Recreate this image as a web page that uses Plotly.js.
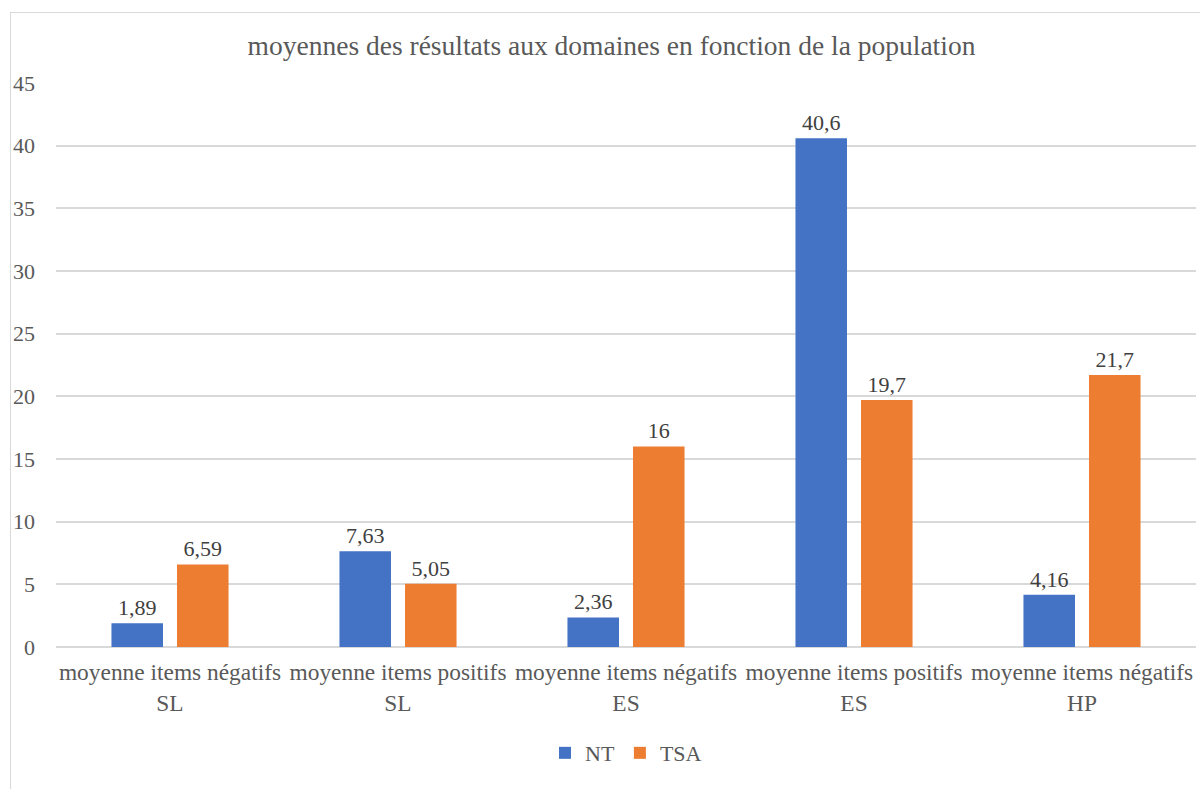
<!DOCTYPE html>
<html>
<head>
<meta charset="utf-8">
<script src="https://cdn.plot.ly/plotly-3.0.1.min.js"></script>
<style>
  html, body { margin: 0; padding: 0; background: #ffffff; }
  #wrap { position: relative; width: 1200px; height: 789px; overflow: hidden; }
  #chart { width: 1200px; height: 789px; }
  #frame { position: absolute; left: 10px; top: 12px; width: 1210px; height: 800px;
           border: 1.5px solid #d9d9d9; pointer-events: none; box-sizing: border-box; }
</style>
</head>
<body>
<div id="wrap">
  <div id="chart"></div>
  <div id="frame"></div>
</div>
<script>
const categories = [
  "moyenne items négatifs<br>SL",
  "moyenne items positifs<br>SL",
  "moyenne items négatifs<br>ES",
  "moyenne items positifs<br>ES",
  "moyenne items négatifs<br>HP"
];
const seriesNames = ["NT", "TSA"];
const ntValues = [1.89, 7.63, 2.36, 40.6, 4.16];
const tsaValues = [6.59, 5.05, 16, 19.7, 21.7];
const yTicks = [0, 5, 10, 15, 20, 25, 30, 35, 40, 45];
const chartTitle = "moyennes des résultats aux domaines en fonction de la population";

const fmt = v => String(v).replace('.', ',');
const serif = "Times New Roman, Liberation Serif, Tinos, DejaVu Serif, serif";

const traces = [
  {
    type: 'bar', name: seriesNames[0], x: categories, y: ntValues,
    text: ntValues.map(fmt), textposition: 'outside', cliponaxis: false,
    textfont: { family: serif, size: 22, color: '#404040' },
    marker: { color: '#4472C4' }, hoverinfo: 'x+y'
  },
  {
    type: 'bar', name: seriesNames[1], x: categories, y: tsaValues,
    text: tsaValues.map(fmt), textposition: 'outside', cliponaxis: false,
    textfont: { family: serif, size: 22, color: '#404040' },
    marker: { color: '#ED7D31' }, hoverinfo: 'x+y'
  }
];

const layout = {
  width: 1200, height: 789,
  paper_bgcolor: '#ffffff', plot_bgcolor: '#ffffff',
  margin: { l: 56, r: 4, t: 83, b: 142 },
  font: { family: serif, size: 22, color: '#595959' },
  title: {
    text: chartTitle,
    font: { family: serif, size: 27.5, color: '#595959' },
    x: 611.5 / 1200, xanchor: 'center', xref: 'container',
    y: 1 - 45 / 789, yanchor: 'middle', yref: 'container'
  },
  barmode: 'group', bargap: 0.425, bargroupgap: 0.214,
  showlegend: true,
  legend: {
    orientation: 'h', x: 0.5, xanchor: 'center', y: -0.188, yanchor: 'middle',
    font: { family: serif, size: 22, color: '#595959' },
    itemwidth: 30, traceorder: 'normal'
  },
  xaxis: {
    type: 'category', showgrid: false, showline: false, zeroline: false,
    ticks: '', ticklabelstandoff: 9,
    tickfont: { family: serif, size: 23.4, color: '#595959' },
    automargin: false
  },
  yaxis: {
    range: [0, 45], tickvals: yTicks, ticktext: yTicks.map(String),
    showgrid: true, gridcolor: '#d9d9d9', gridwidth: 1.5,
    zeroline: true, zerolinecolor: '#d9d9d9', zerolinewidth: 1.5,
    showline: false, ticks: '', ticklabelstandoff: 20,
    tickfont: { family: serif, size: 22, color: '#595959' },
    automargin: false
  }
};

Plotly.newPlot('chart', traces, layout, { displayModeBar: false, staticPlot: false });
</script>
</body>
</html>
